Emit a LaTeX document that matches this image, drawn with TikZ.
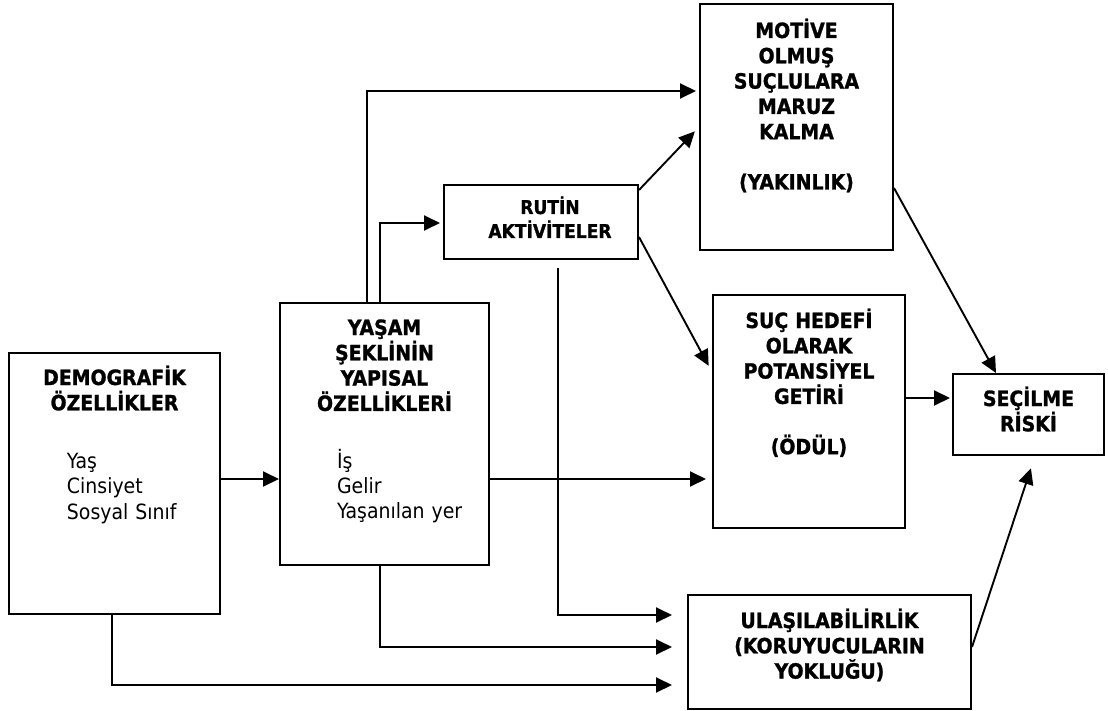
\documentclass[tikz,border=0pt]{standalone}
\usepackage{fontspec}
\setmainfont{DejaVu Sans Condensed}[BoldFeatures={FakeBold=1.2}]
\usetikzlibrary{arrows.meta,calc,positioning}

\begin{document}
\begin{tikzpicture}[x=1pt,y=-1pt,
          box/.style = {draw, line width=2pt, inner sep=0pt, anchor=north west,
            font=\fontsize{21}{25.3}\selectfont\bfseries},
          headbox/.style = {box, align=center},
          listbox/.style = {box, align=left},
          ->,>={Triangle[length=16pt,width=15pt]}, line width=1.9pt]
        \useasboundingbox (0,0) rectangle (1108,711);
        \node [listbox, text width=211pt, text height=32pt, text depth=229pt] (demo) at (8,352)
            {\makebox[\linewidth]{DEMOGRAFİK}\\\makebox[\linewidth]{ÖZELLİKLER}\\[33pt]
             \mdseries\hspace*{58pt}Yaş\\\hspace*{58pt}Cinsiyet\\\hspace*{58pt}Sosyal Sınıf};
        \node [listbox, text width=209pt, text height=32pt, text depth=230pt] (yasam) at (279,302)
            {\makebox[\linewidth]{YAŞAM}\\\makebox[\linewidth]{ŞEKLİNİN}\\\makebox[\linewidth]{YAPISAL}\\
             \makebox[\linewidth]{ÖZELLİKLERİ}\\[32pt]
             \mdseries\hspace*{57pt}İş\\\hspace*{57pt}Gelir\\\hspace*{57pt}Yaşanılan yer};
        \node [headbox, text width=194pt, text height=29pt, text depth=45pt,
            font=\fontsize{19}{24}\selectfont\bfseries] (rutin) at (443,184)
            {\hspace*{18pt}RUTİN\\\hspace*{18pt}AKTİVİTELER};
        \node [headbox, text width=193pt, text height=34pt, text depth=212pt] (motive) at (699,3)
            {MOTİVE\\OLMUŞ\\SUÇLULARA\\MARUZ\\KALMA\\[25pt](YAKINLIK)};
        \node [headbox, text width=192pt, text height=33pt, text depth=200pt] (suc) at (712,294)
            {SUÇ HEDEFİ\\OLARAK\\POTANSİYEL\\GETİRİ\\[25pt](ÖDÜL)};
        \node [headbox, text width=151pt, text height=32pt, text depth=49pt] (risk) at (952,373)
            {SEÇİLME\\RİSKİ};
        \node [headbox, text width=283pt, text height=33pt, text depth=81pt] (ulas) at (687,594)
            {ULAŞILABİLİRLİK\\(KORUYUCULARIN\\YOKLUĞU)};

        \draw (demo.east |- 0,479) -- (yasam.west |- 0,479);
        \draw [shorten >=3pt] (yasam.north -| 367,0) |- (motive.west |- 0,91);
        \draw [shorten >=3pt] (yasam.north -| 380,0) |- (rutin.west |- 0,223);
        \draw [shorten >=6pt] (rutin.east |- 0,190) -- (motive.west |- 0,127);
        \draw [shorten >=7pt] (rutin.east |- 0,237) -- (suc.west |- 0,372);
        \draw [shorten >=15pt] ($(rutin.south)+(17,8)$) |- (ulas.west |- 0,615);
        \draw [shorten >=6pt] (yasam.east |- 0,479) -- (suc.west |- 0,479);
        \draw [shorten >=15pt] (yasam.south -| 380,0) |- (ulas.west |- 0,647);
        \draw [shorten >=15pt] (demo.south -| 112,0) |- (ulas.west |- 0,685);
        \draw [shorten >=2pt] (suc.east |- 0,398) -- (risk.west |- 0,398);
        \draw (motive.east |- 0,188) -- (risk.north -| 996,0);
        \draw [shorten >=13pt] (ulas.east |- 0,647) -- (risk.south -| 1035,0);
\end{tikzpicture}
\end{document}
